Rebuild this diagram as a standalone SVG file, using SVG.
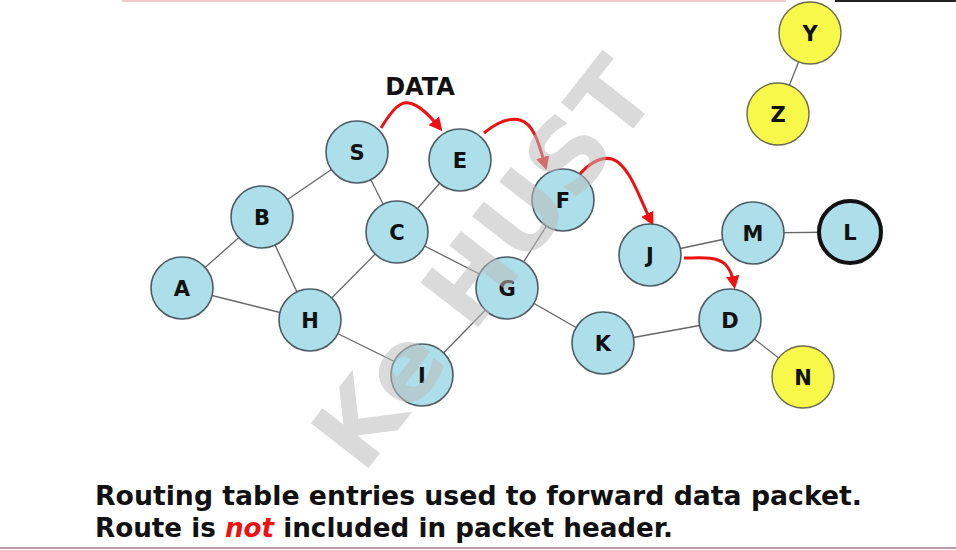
<svg xmlns="http://www.w3.org/2000/svg" width="956" height="550" viewBox="0 0 956 550">
<style>
.n{fill:#acdfe9;stroke:#4d5c62;stroke-width:1.6}
.y{fill:#f8f84a;stroke:#6a6a50;stroke-width:1.4}
.t{font-family:"DejaVu Sans",Verdana,sans-serif;font-weight:bold;font-size:21px;fill:#111;text-anchor:middle}
.e{stroke:#666;stroke-width:1.3;fill:none}
.r{stroke:#ee1111;stroke-width:3;fill:none;marker-end:url(#ah)}
.b{font-family:"DejaVu Sans",Verdana,sans-serif;font-weight:bold;font-size:26px;fill:#111}
</style>
<defs>
<marker id="ah" viewBox="0 0 10 10" refX="6" refY="5" markerWidth="4.5" markerHeight="4.5" orient="auto" markerUnits="strokeWidth">
<path d="M0,0 L10,5 L0,10 z" fill="#ee1111"/>
</marker>
</defs>
<rect width="956" height="550" fill="#fff"/>
<line x1="122" y1="1" x2="786" y2="1" stroke="#f4c8cc" stroke-width="2"/>
<line x1="835" y1="1" x2="956" y2="1" stroke="#222" stroke-width="2"/>
<line x1="0" y1="548" x2="956" y2="548" stroke="#b89aa8" stroke-width="2"/>
<g id="connectors">
<line class="e" x1="357" y1="152" x2="262" y2="217"/>
<line class="e" x1="357" y1="152" x2="397" y2="232"/>
<line class="e" x1="460" y1="160" x2="397" y2="232"/>
<line class="e" x1="262" y1="217" x2="182" y2="288"/>
<line class="e" x1="262" y1="217" x2="310" y2="320"/>
<line class="e" x1="182" y1="288" x2="310" y2="320"/>
<line class="e" x1="397" y1="232" x2="310" y2="320"/>
<line class="e" x1="397" y1="232" x2="507" y2="288"/>
<line class="e" x1="563" y1="200" x2="507" y2="288"/>
<line class="e" x1="507" y1="288" x2="422" y2="375"/>
<line class="e" x1="310" y1="320" x2="422" y2="375"/>
<line class="e" x1="507" y1="288" x2="603" y2="343"/>
<line class="e" x1="603" y1="343" x2="730" y2="320"/>
<line class="e" x1="730" y1="320" x2="803" y2="377"/>
<line class="e" x1="650" y1="255" x2="753" y2="233"/>
<line class="e" x1="753" y1="233" x2="850" y2="232"/>
<line class="e" x1="810" y1="33" x2="778" y2="114"/>
<path class="r" d="M381,128 C392,110 400,101 409,103 C420,105 430,116 439,127"/>
<path class="r" d="M484,133 C495,124 508,117 520,120 C535,124 540,148 545,165"/>
<path class="r" d="M580,174 C590,163 600,156 612,159 C630,165 640,200 651,221"/>
<path class="r" d="M684,258 C700,258 715,256 725,264 C731,270 733,278 734,284"/>
</g>
<g id="S"><circle class="n" cx="357" cy="152" r="31"/><text class="t" x="357" y="160">S</text></g>
<g id="E"><circle class="n" cx="460" cy="160" r="31"/><text class="t" x="460" y="168">E</text></g>
<g id="B"><circle class="n" cx="262" cy="217" r="31"/><text class="t" x="262" y="225">B</text></g>
<g id="C"><circle class="n" cx="397" cy="232" r="31"/><text class="t" x="397" y="240">C</text></g>
<g id="A"><circle class="n" cx="182" cy="288" r="31"/><text class="t" x="182" y="296">A</text></g>
<g id="H"><circle class="n" cx="310" cy="320" r="31"/><text class="t" x="310" y="328">H</text></g>
<g id="I"><circle class="n" cx="422" cy="375" r="31"/><text class="t" x="422" y="383">I</text></g>
<g id="F"><circle class="n" cx="563" cy="200" r="31"/><text class="t" x="563" y="208">F</text></g>
<g id="G"><circle class="n" cx="507" cy="288" r="31"/><text class="t" x="507" y="296">G</text></g>
<g id="K"><circle class="n" cx="603" cy="343" r="31"/><text class="t" x="603" y="351">K</text></g>
<g id="J"><circle class="n" cx="650" cy="255" r="31"/><text class="t" x="650" y="263">J</text></g>
<g id="M"><circle class="n" cx="753" cy="233" r="31"/><text class="t" x="753" y="241">M</text></g>
<g id="L"><circle class="n" cx="850" cy="232" r="31" style="stroke:#111;stroke-width:4"/><text class="t" x="850" y="240">L</text></g>
<g id="D"><circle class="n" cx="730" cy="320" r="31"/><text class="t" x="730" y="328">D</text></g>
<g id="N"><circle class="y" cx="803" cy="377" r="31"/><text class="t" x="803" y="385">N</text></g>
<g id="Y"><circle class="y" cx="810" cy="33" r="31"/><text class="t" x="810" y="41">Y</text></g>
<g id="Z"><circle class="y" cx="778" cy="114" r="31"/><text class="t" x="778" y="122">Z</text></g>
<text class="t" x="420" y="95" style="font-size:24px">DATA</text>
<text x="480" y="300" transform="rotate(-52 480 260)" style="font-family:'DejaVu Sans',sans-serif;font-weight:bold;font-size:100px;fill:#bbbbbb;fill-opacity:0.55;text-anchor:middle">Ke HUST</text>
<text class="b" x="95" y="505" textLength="767" lengthAdjust="spacingAndGlyphs">Routing table entries used to forward data packet.</text>
<text class="b" x="95" y="537" textLength="578" lengthAdjust="spacingAndGlyphs">Route is <tspan fill="#ee1111" font-style="italic">not</tspan> included in packet header.</text>
</svg>
